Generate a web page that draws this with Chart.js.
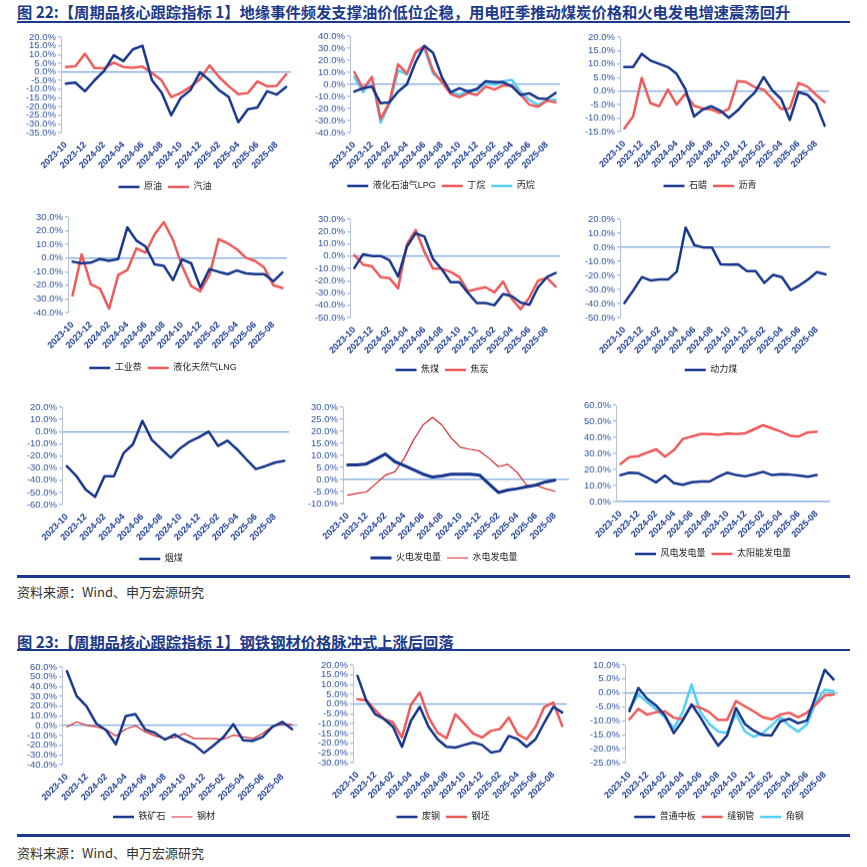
<!DOCTYPE html>
<html>
<head>
<meta charset="utf-8">
<script src="https://cdn.jsdelivr.net/npm/chart.js@4.4.1/dist/chart.umd.min.js"></script>
<style>
  body { margin: 0; background: #fff; width: 867px; height: 867px; position: relative; overflow: hidden; }
  .title { position: absolute; left: 17px; font: bold 15.3px "Noto Sans CJK SC", sans-serif; line-height: 18px; color: #1B3A8C; white-space: nowrap; }
  .rule { position: absolute; left: 17px; width: 833px; background: #1B3A8C; }
  .src { position: absolute; left: 17px; font: 13px "Noto Sans CJK SC", sans-serif; line-height: 16px; color: #333; white-space: nowrap; }
  .panel { position: absolute; }
</style>
</head>
<body>
<div class="title" style="top:2px">图 22:【周期品核心跟踪指标 1】地缘事件频发支撑油价低位企稳，用电旺季推动煤炭价格和火电发电增速震荡回升</div>
<div class="rule" style="top:21px;height:2px"></div>
<div class="rule" style="top:575px;height:2.5px"></div>
<div class="src" style="top:584px">资料来源：Wind、申万宏源研究</div>
<div class="title" style="top:632px">图 23:【周期品核心跟踪指标 1】钢铁钢材价格脉冲式上涨后回落</div>
<div class="rule" style="top:649px;height:2px"></div>
<div class="rule" style="top:834px;height:2.5px"></div>
<div class="src" style="top:845px">资料来源：Wind、申万宏源研究</div>

<script>
// ================= DATA (YoY %, monthly) =================
const months = ["2023-10","2023-11","2023-12","2024-01","2024-02","2024-03","2024-04","2024-05","2024-06","2024-07","2024-08","2024-09",
                "2024-10","2024-11","2024-12","2025-01","2025-02","2025-03","2025-04","2025-05","2025-06","2025-07","2025-08","2025-09"];

const crudeOil = [-6.8,-6.2,-11.2,-4.9,0.5,9.5,6.2,12.9,15.0,-4.9,-12.0,-25.0,-15.0,-10.6,-0.3,-4.9,-10.6,-14.5,-29.0,-21.5,-20.5,-11.2,-13.1,-8.7];
const gasoline = [2.8,3.2,10.4,2.2,2.0,5.3,2.8,2.4,3.0,-0.7,-4.9,-14.5,-12.2,-8.7,-4.3,3.7,-3.0,-8.3,-12.9,-12.2,-5.5,-8.3,-8.1,-1.4];

const lpg = [-6.0,-3.2,-1.8,-15.7,-14.9,-6.0,0.0,18.5,31.9,26.0,6.0,-6.5,-3.2,-6.0,-3.8,2.6,1.8,1.8,-1.8,-8.8,-7.4,-11.6,-12.1,-7.1];
const butane = [10.2,-3.8,6.0,-28.8,-14.9,16.6,8.8,26.9,31.6,11.0,1.8,-7.9,-10.7,-7.1,-8.8,-1.8,-4.3,-1.0,-1.0,-8.5,-16.9,-18.5,-13.5,-14.9];
const propane = [6.0,-6.5,6.0,-31.6,-16.3,11.6,8.2,26.0,29.7,8.8,3.2,-6.5,-8.8,-5.2,-5.2,1.3,-0.4,2.6,3.8,-6.5,-13.0,-16.9,-13.5,-12.7];

const paraffin = [8.9,8.9,13.8,11.3,10.1,8.9,6.4,0.8,-9.4,-6.8,-5.6,-7.2,-9.9,-7.2,-3.5,-0.4,5.2,0.2,-2.9,-10.7,-0.4,-1.3,-4.7,-12.8];
const asphalt = [-13.8,-9.4,4.9,-4.5,-5.6,0.6,-5.0,-1.0,-5.4,-6.4,-6.8,-8.1,-6.6,3.7,3.3,1.4,0.6,-2.9,-6.6,-6.4,3.0,1.7,-1.3,-4.1];

const naphthalene = [-2.7,-3.9,-3.4,-0.7,-2.0,-0.7,22.4,12.8,8.4,-4.7,-5.7,-16.2,-1.0,-3.9,-21.6,-8.1,-10.1,-11.8,-9.1,-11.3,-11.8,-11.8,-17.0,-10.6];
const lng = [-27.3,2.7,-19.2,-22.4,-37.1,-12.5,-8.8,7.1,3.9,17.4,26.3,13.3,-5.7,-20.6,-24.3,-12.5,13.8,10.8,6.4,0.2,-2.2,-6.9,-19.9,-21.9];

const cokingCoal = [-9.7,1.5,0.1,0.1,-3.4,-16.6,7.5,18.5,15.8,-2.6,-10.8,-21.2,-21.2,-30.0,-38.2,-38.2,-39.9,-30.8,-32.7,-37.7,-39.6,-25.3,-17.1,-13.8];
const coke = [0.7,-7.0,-8.4,-17.1,-17.9,-26.2,9.5,21.2,3.4,-10.3,-10.3,-13.0,-17.1,-28.6,-26.7,-25.3,-29.5,-20.7,-34.9,-43.2,-33.6,-19.9,-17.7,-24.8];

const thermalCoal = [-39.7,-30.8,-21.2,-23.6,-22.9,-22.9,-17.2,14.0,1.5,-0.1,-0.1,-12.1,-12.4,-12.1,-16.9,-16.9,-25.3,-19.6,-21.2,-30.4,-27.2,-22.9,-17.7,-19.3];

const bituminousCoal = [-28.4,-36.3,-47.6,-53.6,-36.6,-36.6,-17.9,-10.5,8.7,-6.9,-14.3,-21.5,-13.8,-8.3,-4.7,-0.1,-11.9,-7.5,-14.6,-22.9,-30.8,-28.4,-25.6,-24.2];

const thermalPower = [6.0,6.0,6.5,8.5,10.6,7.4,5.8,4.0,2.2,1.0,1.5,2.2,2.2,2.2,1.8,-1.8,-5.4,-4.4,-3.8,-3.0,-2.3,-1.0,-0.3,null];
const hydroPower = [-6.5,-5.8,-5.1,-1.7,1.8,3.2,8.8,16.4,22.6,25.7,22.6,17.1,13.3,12.5,11.8,8.8,5.3,6.3,2.9,-2.4,-2.4,-3.8,-4.9,null];

const windPower = [16.5,18.0,17.7,15.0,12.0,16.3,11.5,10.5,12.0,12.5,12.5,15.5,18.0,16.5,15.7,17.0,18.5,16.5,17.0,16.8,16.3,15.5,16.5,null];
const solarPower = [23.5,27.7,28.3,30.5,32.5,28.0,32.0,39.0,40.5,42.0,42.0,41.5,42.3,42.0,42.5,45.0,47.5,45.5,43.5,41.0,40.5,43.0,43.5,null];

const ironOre = [55.8,30.2,19.9,2.1,-4.7,-19.1,9.7,11.7,-4.0,-7.5,-14.3,-9.2,-15.0,-19.5,-28.0,-20.1,-11.6,1.4,-15.0,-15.7,-11.6,-1.3,3.8,-3.7];
const steel = [-1.3,3.8,0.4,-1.3,-4.0,-10.5,-3.7,0.0,-6.4,-10.5,-13.3,-12.3,-8.1,-13.3,-13.3,-13.3,-14.0,-9.8,-11.6,-13.3,-8.1,-0.6,1.4,1.1];

const scrapSteel = [14.5,1.7,-5.2,-7.7,-11.7,-21.9,-8.6,-1.4,-11.7,-18.0,-21.9,-22.3,-20.9,-19.7,-20.9,-24.8,-24.0,-16.3,-18.0,-21.9,-18.0,-9.4,-1.4,-4.3];
const billet = [2.5,2.0,-3.1,-7.7,-9.4,-17.1,-0.4,6.0,-6.9,-14.6,-17.5,-5.2,-10.0,-15.1,-17.1,-13.7,-12.8,-6.9,-15.4,-18.0,-11.7,-1.4,0.8,-11.2];

const mediumPlate = [-6.5,1.8,-2.1,-4.5,-8.1,-14.4,-9.9,-4.1,-8.8,-14.1,-18.9,-15.3,-5.4,-11.1,-13.5,-15.1,-15.3,-10.2,-9.3,-10.9,-9.9,-1.1,8.3,4.8];
const seamPipe = [-9.5,-5.7,-7.8,-6.9,-6.6,-8.9,-9.5,-4.5,-5.3,-6.9,-9.7,-9.7,-2.9,-4.8,-6.6,-8.7,-9.5,-7.8,-7.1,-8.7,-7.1,-4.1,-0.9,-0.6];
const angleSteel = [-5.7,-0.6,-3.3,-5.9,-8.8,-12.7,-6.9,3.0,-6.9,-11.1,-13.8,-14.4,-7.5,-13.8,-15.7,-14.5,-11.7,-8.7,-11.7,-13.9,-11.3,-3.3,1.2,0.6];

// ================= STYLE =================
const FONT = "'Liberation Sans', 'Noto Sans CJK SC', sans-serif";
const NAVY = "#17378C";
const RED = "#EE5A5A";
const CYAN = "#52CFF5";
const DARKRED = "#D9262C";
const Y_AXIS_W = 42;

// ================= HELPERS =================
// box: L/R/T/B = plot area edges, G = legend centre y, C = legend centre x
function makePanel(box, yMin, yMax, yStep, series) {
  // invisible right-hand axis pushes the legend centre to where it sits in the original
  const spacer = Math.max(0, 2 * box.C - box.L - box.R + Y_AXIS_W);
  const left = box.L - Y_AXIS_W - 4;
  const top = box.T - 8;
  const width = box.R + spacer + 2 - left;
  const height = box.G + 14.5 - top;

  const div = document.createElement("div");
  div.className = "panel";
  div.style.cssText = `left:${left}px;top:${top}px;width:${width}px;height:${height}px`;
  const canvas = document.createElement("canvas");
  div.appendChild(canvas);
  document.body.appendChild(div);

  new Chart(canvas, {
    type: "line",
    data: {
      labels: months,
      datasets: series.map(s => ({
        label: s.name,
        data: s.data,
        borderColor: s.color,
        backgroundColor: s.color,
        borderWidth: s.width || 2.5,
        pointRadius: 0,
        tension: 0,
        borderJoinStyle: "round",
        borderCapStyle: "round",
        yAxisID: "y"
      }))
    },
    options: {
      responsive: true,
      maintainAspectRatio: false,
      animation: false,
      layout: { padding: { left: 4, right: 2, top: 8, bottom: 0 } },
      plugins: {
        legend: {
          position: "bottom",
          labels: {
            usePointStyle: true, pointStyle: "line", pointStyleWidth: 21, boxHeight: 9,
            padding: 6, color: "#222", font: { size: 9, family: FONT }
          }
        },
        tooltip: { enabled: false }
      },
      scales: {
        x: {
          offset: true,
          grid: { display: false, drawTicks: false },
          border: { display: false },
          ticks: {
            autoSkip: false, minRotation: 45, maxRotation: 45, padding: 7,
            color: "#1F3F96", font: { size: 9, weight: "bold", family: FONT },
            callback: function(v, i) { return i % 2 === 0 ? this.getLabelForValue(v) : ""; }
          },
          afterFit: s => { s.height = box.G - 10.5 - box.B; }
        },
        y: {
          min: yMin, max: yMax,
          ticks: {
            autoSkip: false, stepSize: yStep, padding: 2, color: "#2F55A4",
            font: { size: 9.5, family: FONT },
            callback: v => v.toFixed(1) + "%"
          },
          grid: {
            color: c => (c.tick && Math.abs(c.tick.value) < 1e-9) ? "#8DB3E2" : "rgba(0,0,0,0)",
            lineWidth: 1.5, tickColor: "#B4C3DE", tickLength: 3
          },
          border: { display: true, color: "#B4C3DE" },
          afterFit: s => { s.width = Y_AXIS_W; }
        },
        spacer: {
          type: "linear", position: "right",
          ticks: { display: false },
          grid: { display: false, drawTicks: false },
          border: { display: false },
          afterFit: s => { s.width = spacer; }
        }
      }
    }
  });
}

// ================= FIGURE 22 =================
makePanel({ L: 61, R: 291, T: 37, B: 132, G: 186, C: 165 }, -35, 20, 5, [
  { name: "原油", data: crudeOil, color: NAVY },
  { name: "汽油", data: gasoline, color: RED }
]);
makePanel({ L: 350, R: 560, T: 36, B: 132, G: 185, C: 441 }, -40, 40, 10, [
  { name: "液化石油气LPG", data: lpg, color: NAVY },
  { name: "丁烷", data: butane, color: RED },
  { name: "丙烷", data: propane, color: CYAN }
]);
makePanel({ L: 620, R: 829, T: 37, B: 131, G: 185, C: 710 }, -15, 20, 5, [
  { name: "石蜡", data: paraffin, color: NAVY },
  { name: "沥青", data: asphalt, color: RED }
]);
makePanel({ L: 68, R: 287, T: 217, B: 312, G: 367, C: 163 }, -40, 30, 10, [
  { name: "工业萘", data: naphthalene, color: NAVY },
  { name: "液化天然气LNG", data: lng, color: RED }
]);
makePanel({ L: 350, R: 560, T: 219, B: 317, G: 369, C: 442 }, -50, 30, 10, [
  { name: "焦煤", data: cokingCoal, color: NAVY },
  { name: "焦炭", data: coke, color: RED }
]);
makePanel({ L: 620, R: 830, T: 219, B: 317, G: 369, C: 711 }, -50, 20, 10, [
  { name: "动力煤", data: thermalCoal, color: NAVY }
]);
makePanel({ L: 62, R: 289, T: 407, B: 504, G: 558, C: 161 }, -60, 20, 10, [
  { name: "烟煤", data: bituminousCoal, color: NAVY }
]);
makePanel({ L: 343, R: 569, T: 407, B: 503, G: 557, C: 444 }, -10, 30, 5, [
  { name: "火电发电量", data: thermalPower, color: NAVY, width: 3 },
  { name: "水电发电量", data: hydroPower, color: DARKRED, width: 1.2 }
]);
makePanel({ L: 616, R: 830, T: 405, B: 501, G: 553, C: 713 }, 0, 60, 10, [
  { name: "风电发电量", data: windPower, color: NAVY },
  { name: "太阳能发电量", data: solarPower, color: RED }
]);

// ================= FIGURE 23 =================
makePanel({ L: 62, R: 297, T: 667, B: 764, G: 816, C: 164 }, -40, 60, 10, [
  { name: "铁矿石", data: ironOre, color: NAVY },
  { name: "钢材", data: steel, color: DARKRED, width: 1.2 }
]);
makePanel({ L: 353, R: 569, T: 665, B: 762, G: 816, C: 443 }, -30, 20, 5, [
  { name: "废钢", data: scrapSteel, color: NAVY },
  { name: "钢坯", data: billet, color: RED }
]);
makePanel({ L: 625, R: 838, T: 665, B: 762, G: 816, C: 719 }, -25, 10, 5, [
  { name: "普通中板", data: mediumPlate, color: NAVY },
  { name: "缝钢管", data: seamPipe, color: RED },
  { name: "角钢", data: angleSteel, color: CYAN }
]);
</script>
</body>
</html>
